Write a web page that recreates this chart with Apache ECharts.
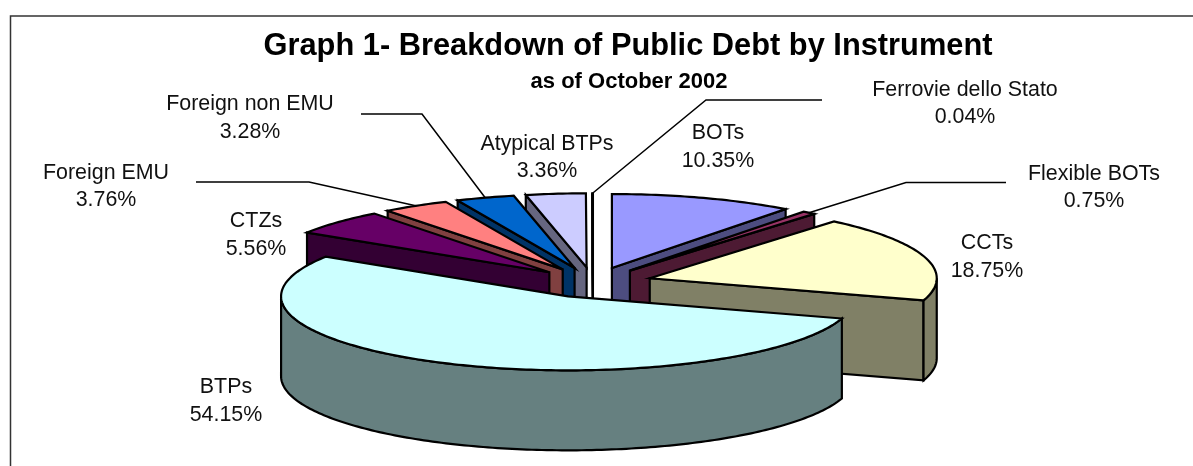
<!DOCTYPE html>
<html>
<head>
<meta charset="utf-8">
<style>html,body{margin:0;padding:0;background:#fff}#chart{width:1193px;height:466px}</style>
<script src="https://cdn.jsdelivr.net/npm/echarts@6/dist/echarts.min.js"></script>
</head>
<body>
<div id="chart"></div>
<script>
// Instruments, clockwise from twelve o'clock
const categories = ['BOTs', 'Flexible BOTs', 'CCTs', 'BTPs', 'CTZs', 'Foreign EMU', 'Foreign non EMU', 'Atypical BTPs', 'Ferrovie dello Stato'];
const shares = [10.35, 0.75, 18.75, 54.15, 5.56, 3.76, 3.28, 3.36, 0.04];
const topColors = ['#9999FF', '#993366', '#FFFFCC', '#CCFFFF', '#660066', '#FF8080', '#0066CC', '#CCCCFF', '#000080'];
const wallColors = ['#4D4D80', '#4D1A33', '#808066', '#668080', '#330033', '#804040', '#003366', '#666680', '#000040'];

// Back slices are painted first so nearer ones overlap them
const paintOrder = [8, 7, 6, 5, 4, 0, 1, 2, 3];

// Label centres per instrument: [x, first line y, second line y]
const labelSpots = [[718, 133, 161], [1094, 174, 201], [987, 243, 271], [226, 387, 415], [256, 221, 249], [106, 173, 200], [250, 104, 132], [547, 144, 171], [965, 90, 117]];
// Leader line start and elbow, where an instrument has one
const leaderRoutes = { 1: [[1006, 182.5], [906, 182.5]], 5: [[196, 182], [309, 182]], 6: [[361, 114], [422, 114]], 8: [[822, 100], [706, 100]] };

const FONT = '"Liberation Sans", Arial, sans-serif';
const pie = { cx: 593, cy: 282.5, rx: 287, ry: 74, depth: 80, explode: 0.206 };
const total = shares.reduce((a, b) => a + b, 0);
const startAngles = [];
shares.reduce((acc, v, i) => { startAngles[i] = acc; return acc + v / total * 360; }, 0);

const rad = d => d * Math.PI / 180;

function renderSlice(params, api) {
  const i = api.value(0);
  const a0 = startAngles[i];
  const a1 = a0 + api.value(1) / total * 360;
  const mid = (a0 + a1) / 2;
  const ox = pie.cx + pie.explode * pie.rx * Math.sin(rad(mid));
  const oy = pie.cy - pie.explode * pie.ry * Math.cos(rad(mid));
  const rim = d => [ox + pie.rx * Math.sin(rad(d)), oy - pie.ry * Math.cos(rad(d))];
  const drop = p => [p[0], p[1] + pie.depth];
  const arc = (from, to) => {
    const pts = [];
    const n = Math.max(1, Math.ceil((to - from) / 1));
    for (let k = 0; k <= n; k++) pts.push(rim(from + (to - from) * k / n));
    return pts;
  };
  const edge = { stroke: '#000', lineWidth: 2.2, lineJoin: 'miter', miterLimit: 6 };
  const face = (pts, fill) => ({ type: 'polygon', shape: { points: pts }, style: Object.assign({ fill }, edge) });
  const children = [];

  // Radial cut faces that turn toward the viewer
  const apex = [ox, oy];
  const wallFor = d => [apex, rim(d), drop(rim(d)), drop(apex)];
  if (Math.sin(rad(a0)) < 0) children.push(face(wallFor(a0), wallColors[i]));
  if (Math.sin(rad(a1)) > 0) children.push(face(wallFor(a1), wallColors[i]));

  // Outer rim on the near half of the ellipse
  const from = Math.max(a0, 90), to = Math.min(a1, 270);
  if (to > from) {
    const top = arc(from, to);
    children.push(face(top.concat(top.map(drop).reverse()), wallColors[i]));
  }

  // Top surface
  children.push(face([apex].concat(arc(a0, a1)), topColors[i]));

  // Leader from the label to the middle of the slice's rim
  if (leaderRoutes[i]) {
    children.push({
      type: 'polyline',
      shape: { points: leaderRoutes[i].concat([rim(mid)]) },
      style: { stroke: '#000', lineWidth: 1.5, fill: null }
    });
  }

  // Two-line category and percentage label
  const spot = labelSpots[i];
  [categories[i], api.value(1).toFixed(2) + '%'].forEach((line, k) => {
    children.push({
      type: 'text',
      style: { text: line, x: spot[0], y: spot[k + 1], align: 'center', verticalAlign: 'middle', font: '21.4px ' + FONT, fill: '#111' }
    });
  });

  return { type: 'group', children };
}

const chart = echarts.init(document.getElementById('chart'));
chart.setOption({
  animation: false,
  backgroundColor: '#fff',
  title: [
    { text: 'Graph 1- Breakdown of Public Debt by Instrument', left: 623, top: 26, textAlign: 'center',
      textStyle: { fontFamily: FONT, fontWeight: 'bold', fontSize: 30.8, color: '#000' } },
    { text: 'as of October 2002', left: 624, top: 66, textAlign: 'center',
      textStyle: { fontFamily: FONT, fontWeight: 'bold', fontSize: 22, color: '#000' } }
  ],
  graphic: [{
    type: 'polyline',
    shape: { points: [[10.5, 466], [10.5, 16], [1193, 16]] },
    style: { stroke: '#333', lineWidth: 1.5, fill: null }
  }],
  series: [{
    type: 'custom',
    coordinateSystem: 'none',
    renderItem: renderSlice,
    data: paintOrder.map(i => [i, shares[i]])
  }]
});
</script>
</body>
</html>
